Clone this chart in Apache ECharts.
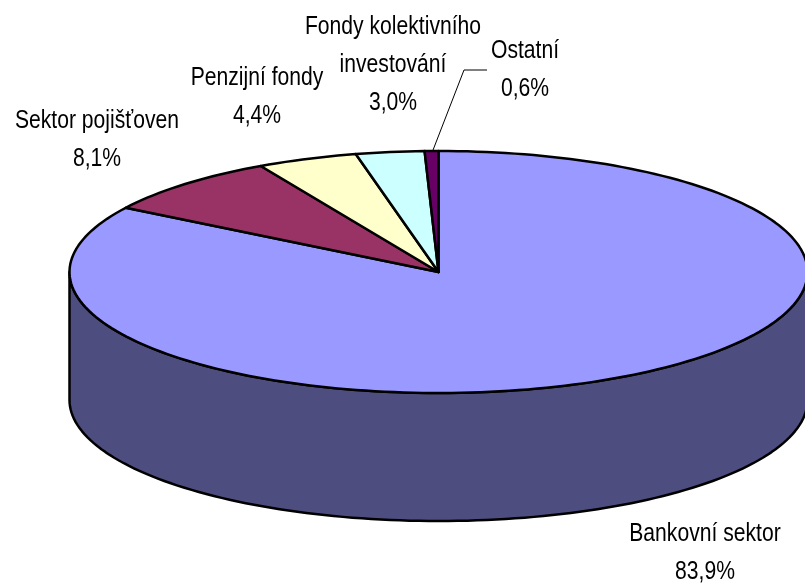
<!DOCTYPE html>
<html><head><meta charset="utf-8">
<style>html,body{margin:0;padding:0;background:#fff}#c{width:805px;height:583px}</style>
<script src="https://cdn.jsdelivr.net/npm/echarts@6/dist/echarts.min.js"></script>
</head><body><div id="c"></div>
<script>
const categories = ['Bankovní sektor','Sektor pojišťoven','Penzijní fondy','Fondy kolektivního\ninvestování','Ostatní'];
const values = [83.9, 8.1, 4.4, 3.0, 0.6];
const valueLabels = ['83,9%','8,1%','4,4%','3,0%','0,6%'];
const topColors = ['#9999FF','#993366','#FFFFCC','#CCFFFF','#660066'];
const sideColors = ['#4D4D80','#4D1A33','#808066','#668080','#330033'];
const labelCenters = [[705,553],[97,140],[257,97],[393,65],[525,70]];

const CX = 438.5, CY = 272, RX = 369, RY = 121, DEPTH = 128;
const total = values.reduce((a, b) => a + b, 0);
const pt = (deg, dy) => {
  const a = deg * Math.PI / 180;
  return [CX + RX * Math.sin(a), CY - RY * Math.cos(a) + (dy || 0)];
};
const arc = (from, to, dy) => {
  const out = [], n = Math.max(2, Math.ceil((to - from) / 1.5));
  for (let i = 0; i <= n; i++) out.push(pt(from + (to - from) * i / n, dy));
  return out;
};
const line = { stroke: '#000', lineWidth: 2.5, lineJoin: 'round' };

function renderItem(params, api) {
  const i = params.dataIndex;
  let before = 0;
  for (let k = 0; k < i; k++) before += values[k];
  const start = before / total * 360, end = (before + api.value(0)) / total * 360;
  const children = [];
  const wf = Math.max(start, 90), wt = Math.min(end, 270);
  if (wt > wf) {
    children.push({ type: 'polygon',
      shape: { points: arc(wf, wt, 0).concat(arc(wf, wt, DEPTH).reverse()) },
      style: Object.assign({ fill: sideColors[i] }, line) });
  }
  children.push({ type: 'polygon',
    shape: { points: [[CX, CY]].concat(arc(start, end, 0)) },
    style: Object.assign({ fill: topColors[i] }, line) });
  if (categories[i] === 'Ostatní') {
    const p = pt((start + end) / 2, 0);
    children.push({ type: 'polyline',
      shape: { points: [[p[0] + 1.5, p[1] - 1], [464, 70], [487, 70]] },
      style: { stroke: '#000', lineWidth: 1, fill: null } });
  }
  children.push({ type: 'text', x: labelCenters[i][0], y: labelCenters[i][1], scaleX: 0.845,
    style: { text: categories[i] + '\n' + valueLabels[i], x: 0, y: 0, align: 'center', verticalAlign: 'middle',
      fontFamily: 'Liberation Sans', fontSize: 25, lineHeight: 38, fill: '#000' } });
  return { type: 'group', children };
}

const chart = echarts.init(document.getElementById('c'), null, { renderer: 'canvas' });
chart.setOption({
  animation: false,
  backgroundColor: '#fff',
  series: [{ type: 'custom', coordinateSystem: 'none', renderItem, clip: false,
    data: values.map((v, i) => ({ name: categories[i], value: [v] })) }]
});
</script></body></html>
